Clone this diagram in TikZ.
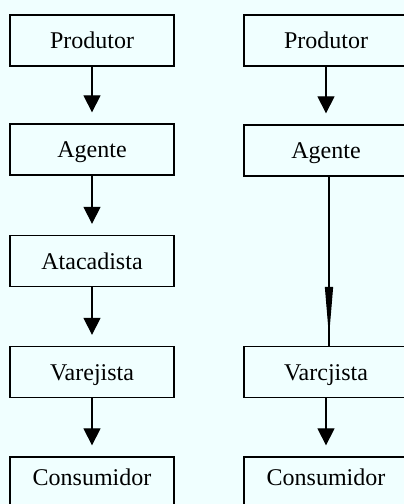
\documentclass[tikz,border=0pt]{standalone}
\usepackage{fontspec}
\setmainfont{Liberation Serif}
\usetikzlibrary{arrows.meta,decorations.markings}
\definecolor{bgcol}{RGB}{240,255,255}
\begin{document}
\begin{tikzpicture}[x=1pt,y=-1pt,
  box/.style={draw, line width=1.3pt, minimum width=164pt, minimum height=51pt,
    inner sep=0pt, text height=16pt, text depth=0pt,
    font=\fontsize{24}{28}\selectfont},
  lastbox/.style={box, text depth=11pt},
  flow/.style={line width=1.2pt, -{Triangle[width=17pt,length=17pt]}, shorten >=11pt},
  longflow/.style={line width=1.2pt, postaction={decorate},
    decoration={markings, mark=at position 0.947 with {\arrow{Triangle[width=8pt,length=50pt]}}}}]
\fill[bgcol] (0,0) rectangle (404,504);
\useasboundingbox (0,0) rectangle (404,504);
\clip (0,0) rectangle (404,504);

% left chain: five levels
\node[box] (lp) at (92,40.5) {Produtor};
\node[box] (la) at (92,149.5) {Agente};
\node[box] (lt) at (92,261) {Atacadista};
\node[box] (lv) at (92,372) {Varejista};
\node[lastbox] (lc) at (92,482.5) {Consumidor};

\draw[flow] (lp.south) -- (la.north);
\draw[flow] (la.south) -- (lt.north);
\draw[flow] (lt.south) -- (lv.north);
\draw[flow] (lv.south) -- (lc.north);

% right chain: wholesaler skipped
\node[box] (rp) at (326,40.5) {Produtor};
\node[box] (ra) at (326,150.5) {Agente};
\node[box] (rv) at (326,372) {Varcjista};
\node[lastbox] (rc) at (326,482.5) {Consumidor};

\draw[flow] (rp.south) -- (ra.north);
\draw[longflow] ([xshift=3pt]ra.south) -- ([xshift=3pt]rv.north);
\draw[flow] (rv.south) -- (rc.north);
\end{tikzpicture}
\end{document}
